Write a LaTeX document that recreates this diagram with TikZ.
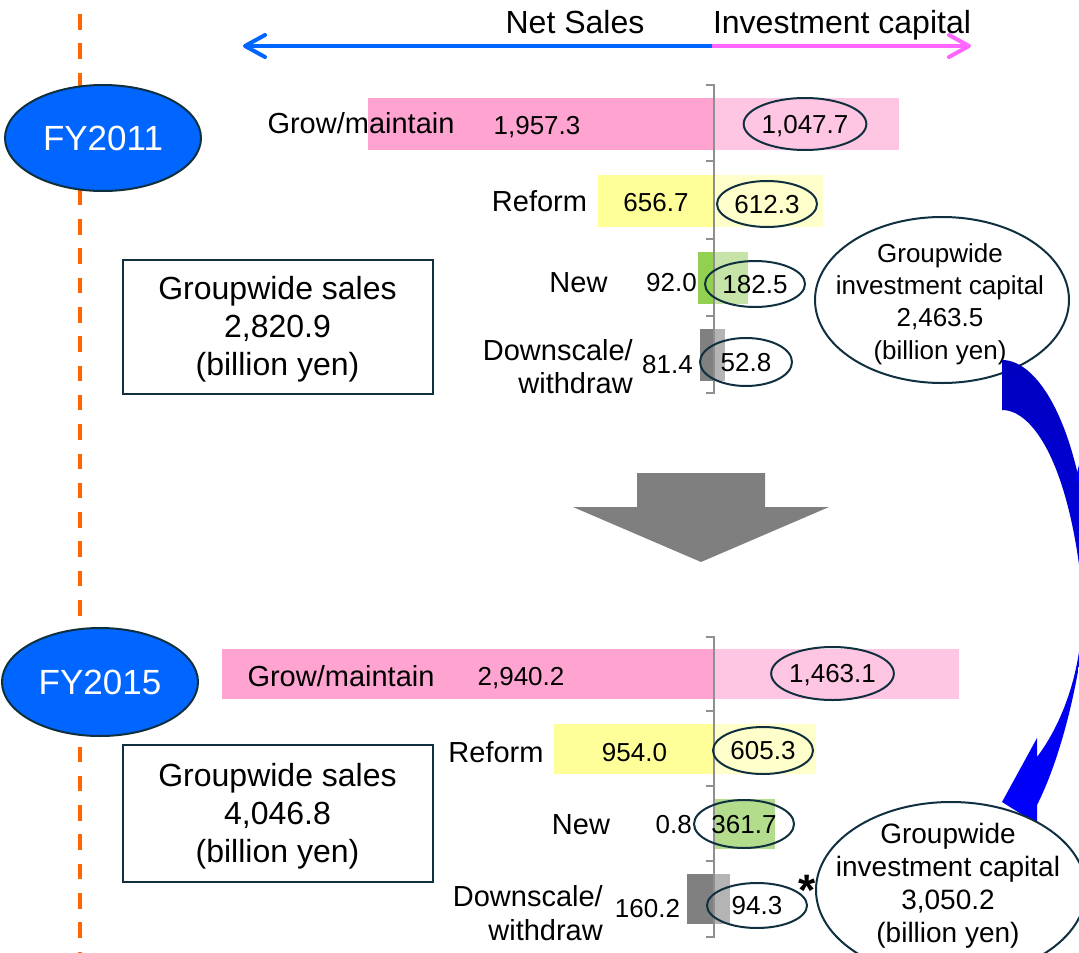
\documentclass[tikz,border=0pt]{standalone}
\usepackage{fontspec}
\setmainfont{Liberation Sans}
\usetikzlibrary{arrows.meta,shapes.geometric}
\definecolor{fyblue}{HTML}{0066FF}
\definecolor{pinkarrow}{HTML}{FF66FF}
\definecolor{dashorange}{HTML}{FF6600}
\definecolor{pinkL}{HTML}{FFA3D1}
\definecolor{pinkR}{HTML}{FFC6E3}
\definecolor{yelL}{HTML}{FFFF99}
\definecolor{yelR}{HTML}{FFFFCC}
\definecolor{grnL}{HTML}{92D050}
\definecolor{grnR}{HTML}{C6E4A8}
\definecolor{grnRb}{HTML}{B3DD8C}
\definecolor{gryL}{HTML}{808080}
\definecolor{gryR}{HTML}{B4B4B4}
\definecolor{axisgray}{HTML}{8F8F8F}
\definecolor{navy}{HTML}{10303F}
\definecolor{arrowdark}{HTML}{0000C0}
\definecolor{arrowblue}{HTML}{0000FF}
\definecolor{bigarrow}{HTML}{7F7F7F}
\begin{document}
\begin{tikzpicture}[x=1pt,y=-1pt,
  num/.style={font=\fontsize{26}{31}\selectfont, anchor=base, inner sep=0pt},
  lbl/.style={font=\fontsize{29}{33}\selectfont, anchor=base, inner sep=0pt},
  hdr/.style={font=\fontsize{32}{38}\selectfont, anchor=base, inner sep=0pt},
  numell/.style={ellipse, draw=navy, line width=2pt, inner sep=0pt,
    font=\fontsize{26}{31}\selectfont, text height=18.6pt, text depth=0pt},
  fyell/.style={ellipse, draw=navy, line width=2pt, fill=fyblue, text=white, inner sep=0pt,
    minimum width=196pt, font=\fontsize{35}{40}\selectfont, text height=25pt, text depth=0pt},
  salesbox/.style={draw=navy, line width=2.5pt, rectangle, inner sep=0pt},
  salestext/.style={font=\fontsize{32}{38}\selectfont, align=center, inner sep=0pt},
  invell/.style={ellipse, draw=navy, line width=2pt, fill=white, inner sep=0pt},
  axisline/.style={axisgray, line width=2pt},
  sales/.style={line width=4pt, fyblue, -{Straight Barb[length=20pt,width=22pt,round]}},
  invest/.style={line width=4pt, pinkarrow, -{Straight Barb[length=20pt,width=22pt,round]}}
]
\useasboundingbox (0,0) rectangle (1079,953);
\clip (0,0) rectangle (1079,953);

% orange dashed timeline
\draw[dashorange, line width=4pt, dash pattern=on 15.5pt off 13.8pt] (80,-15.3) -- (80,960);

% FY ellipses
\node[fyell, minimum height=106pt] (fy11) at (103,138) {FY2011};
\node[fyell, minimum height=108pt] (fy15) at (100,682) {FY2015};

% header arrows
\coordinate (mid) at (712,46);
\coordinate (ltip) at (243,46);
\coordinate (rtip) at (971,46);
\draw[sales] (mid) -- (ltip);
\draw[invest] (mid) -- (rtip);
\node[hdr] (hsales) at (575,33.2) {Net Sales};
\node[hdr] (hinv) at (842,33.2) {Investment capital};

% ---------------- FY2011 bars
\fill[pinkL] (368,98) rectangle (714,150);
\fill[pinkR] (714,98) rectangle (899,150);
\fill[yelL] (598,175) rectangle (714,227);
\fill[yelR] (714,175) rectangle (823,227);
\fill[grnL] (698,252) rectangle (714,304);
\fill[grnR] (714,252) rectangle (748,304);
\fill[gryL] (700,329) rectangle (714,381);
\fill[gryR] (714,329) rectangle (725,381);
\draw[axisline] (706,85) -- (714,85) -- (714,393) -- (706,393);
\foreach \t in {161,239,316} \draw[axisline] (706,\t) -- (714,\t);

\node[lbl] (l11a) at (361,133.4) {Grow/maintain};
\node[num] (n11a) at (537,134.3) {1,957.3};
\node[numell, minimum width=112pt, minimum height=52pt] (e11a) at (805,124) {1,047.7};
\node[lbl] (l11b) at (539.5,211.4) {Reform};
\node[num] (n11b) at (656,211.3) {656.7};
\node[numell, minimum width=100pt, minimum height=46pt] (e11b) at (767,204) {612.3};
\node[lbl] (l11c) at (578.5,292.4) {New};
\node[num, anchor=base east] (n11c) at (697,291.3) {92.0};
\node[numell, minimum width=100pt, minimum height=46pt] (e11c) at (755,284) {182.5};
\node[font=\fontsize{29}{33}\selectfont, align=right, anchor=east, inner sep=0pt] (l11d) at (633,367) {Downscale/\\withdraw};
\node[num] (n11d) at (667.5,373.3) {81.4};
\node[numell, minimum width=92pt, minimum height=48pt] (e11d) at (746,362) {52.8};

% FY2011 sales box
\node[salesbox, minimum width=310pt, minimum height=134pt] (box11) at (278,327) {};
\node[salestext] (sales11) at (277.5,329) {Groupwide sales\\2,820.9\\(billion yen)};

% ---------------- FY2015 bars
\fill[pinkL] (222,649) rectangle (714,699);
\fill[pinkR] (714,649) rectangle (959,699);
\fill[yelL] (554,724) rectangle (714,774);
\fill[yelR] (714,724) rectangle (816,774);
\fill[grnRb] (714,799) rectangle (775,849);
\fill[gryL] (687,874) rectangle (714,924);
\fill[gryR] (714,874) rectangle (730,924);
\draw[axisline] (706,637) -- (714,637) -- (714,937) -- (706,937);
\foreach \t in {711,786,861} \draw[axisline] (706,\t) -- (714,\t);

\node[lbl] (l15a) at (341,686.4) {Grow/maintain};
\node[num] (n15a) at (521,685.3) {2,940.2};
\node[numell, minimum width=115pt, minimum height=53pt] (e15a) at (832.5,673.5) {1,463.1};
\node[lbl] (l15b) at (496,762.4) {Reform};
\node[num] (n15b) at (634.5,761.3) {954.0};
\node[numell, minimum width=100pt, minimum height=47pt] (e15b) at (763,750.5) {605.3};
\node[lbl] (l15c) at (581,834.4) {New};
\node[num, anchor=base east] (n15c) at (692,833.3) {0.8};
\node[numell, minimum width=100pt, minimum height=48pt] (e15c) at (744,824) {361.7};
\node[font=\fontsize{29}{34}\selectfont, align=right, anchor=east, inner sep=0pt] (l15d) at (603,913) {Downscale/\\withdraw};
\node[num] (n15d) at (647.5,917.3) {160.2};
\node[numell, minimum width=100pt, minimum height=45pt] (e15d) at (757,905.5) {94.3};
\node[font=\fontsize{44}{44}\bfseries\selectfont, anchor=base, inner sep=0pt] (star) at (807,905) {*};

% FY2015 sales box
\node[salesbox, minimum width=310pt, minimum height=137pt] (box15) at (278,813.5) {};
\node[salestext] (sales15) at (277.5,816.5) {Groupwide sales\\4,046.8\\(billion yen)};

% big grey down arrow
\fill[bigarrow] (637,473) -- (765,473) -- (765,507) -- (829,507) -- (701,562) -- (573,507) -- (637,507) -- cycle;

% investment capital ellipses and curved arrow
\node[invell, minimum width=254pt, minimum height=166pt] (inv11) at (942,300) {};
\node[font=\fontsize{26}{32.3}\selectfont, align=center, inner sep=0pt] (inv11t) at (940,304) {Groupwide\\investment capital\\2,463.5\\(billion yen)};

\shade[top color=arrowdark, bottom color=arrowblue]
  (1002,360) .. controls (1040,360) and (1078,430) .. (1088,540)
  .. controls (1092,640) and (1065,750) .. (1037,805)
  -- (1037,824) -- (1002,802) -- (1037,738) -- (1037,757)
  .. controls (1065,720) and (1086,660) .. (1082,590)
  .. controls (1070,470) and (1035,410) .. (1002,410) -- cycle;
\fill[arrowblue] (1079,465) -- (1075,481) -- (1079,481) -- cycle;

\node[invell, minimum width=270pt, minimum height=176pt] (inv15) at (951,890) {};
\node[font=\fontsize{28}{33}\selectfont, align=center, inner sep=0pt] (inv15t) at (948,886) {Groupwide\\investment capital\\3,050.2\\(billion yen)};
\end{tikzpicture}
\end{document}
